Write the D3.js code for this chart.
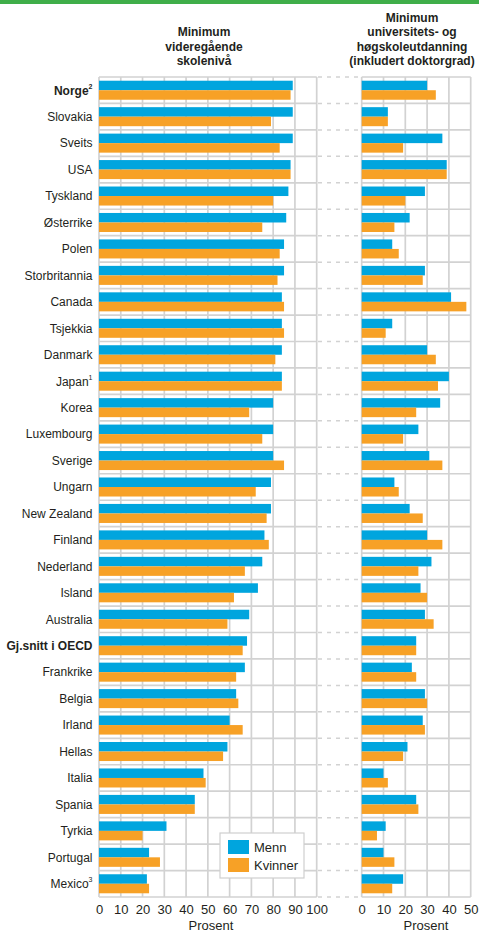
<html>
<head>
<meta charset="utf-8">
<style>
  body { margin: 0; background: #fff; }
  text { font-family: "Liberation Sans", Arial, sans-serif; fill: #231f20; }
</style>
</head>
<body>
<svg id="chart" width="479" height="932"></svg>
<script src="https://cdn.jsdelivr.net/npm/d3@7"></script>
<script>
// land, fotnote, fet skrift
let countries = ["Norge", "Slovakia", "Sveits", "USA", "Tyskland", "Østerrike", "Polen",
  "Storbritannia", "Canada", "Tsjekkia", "Danmark", "Japan", "Korea", "Luxembourg",
  "Sverige", "Ungarn", "New Zealand", "Finland", "Nederland", "Island", "Australia",
  "Gj.snitt i OECD", "Frankrike", "Belgia", "Irland", "Hellas", "Italia", "Spania",
  "Tyrkia", "Portugal", "Mexico"]
let notes = { "Norge": "2", "Japan": "1", "Mexico": "3" }
let boldRows = ["Norge", "Gj.snitt i OECD"]

// Minimum videregående skolenivå
let vgsMenn    = [89, 89, 89, 88, 87, 86, 85, 85, 84, 84, 84, 84, 80, 80, 80, 79, 79, 76, 75, 73, 69, 68, 67, 63, 60, 59, 48, 44, 31, 23, 22]
let vgsKvinner = [88, 79, 83, 88, 80, 75, 83, 82, 85, 85, 81, 84, 69, 75, 85, 72, 77, 78, 67, 62, 59, 66, 63, 64, 66, 57, 49, 44, 20, 28, 23]

// Minimum universitets- og høgskoleutdanning
let uniMenn    = [30, 12, 37, 39, 29, 22, 14, 29, 41, 14, 30, 40, 36, 26, 31, 15, 22, 30, 32, 27, 29, 25, 23, 29, 28, 21, 10, 25, 11, 10, 19]
let uniKvinner = [34, 12, 19, 39, 20, 15, 17, 28, 48, 11, 34, 35, 25, 19, 37, 17, 28, 37, 26, 30, 33, 25, 25, 30, 29, 19, 12, 26, 7, 15, 14]

let seriesNames = ["Menn", "Kvinner"]
let colors = { "Menn": "#00a5de", "Kvinner": "#f7a126" }
let leftTicks = d3.range(0, 101, 10)
let rightTicks = d3.range(0, 51, 10)

let svg = d3.select("#chart")
let gridColor = "#d2d2d2"

// grønn strek øverst
svg.append("rect").attr("x", 0).attr("y", 0).attr("width", 479).attr("height", 4)
  .attr("fill", "#3fae49")

let plotTop = 77, plotBottom = 897
let y = d3.scaleBand().domain(countries).range([plotTop, plotBottom]).padding(0)
let ySub = d3.scaleBand().domain(seriesNames).range([0, y.bandwidth()])
  .paddingInner(0).paddingOuter(0.39)

let xLeft = d3.scaleLinear().domain([0, 100]).range([99, 316.7])
let xRight = d3.scaleLinear().domain([0, 50]).range([361.7, 470.7])

// stiplede linjer mellom panelene
let rowLines = countries.map(c => y(c)).concat([plotBottom])
svg.append("g").selectAll("line").data(rowLines).enter().append("line")
  .attr("x1", 318).attr("x2", 361).attr("y1", d => d).attr("y2", d => d)
  .attr("stroke", gridColor).attr("stroke-width", 1.5).attr("stroke-dasharray", "4,5")

function panel(x, ticks, menn, kvinner, header, headerX, titleX) {
  let g = svg.append("g")
  // rutenett
  g.selectAll(".v").data(ticks).enter().append("line")
    .attr("x1", d => x(d)).attr("x2", d => x(d))
    .attr("y1", plotTop).attr("y2", plotBottom)
    .attr("stroke", gridColor).attr("stroke-width", 1.7)
  g.selectAll(".h").data(rowLines).enter().append("line")
    .attr("x1", x.range()[0]).attr("x2", x.range()[1])
    .attr("y1", d => d).attr("y2", d => d)
    .attr("stroke", gridColor).attr("stroke-width", 1.7)

  let rows = countries.map((c, i) => ({ c: c, Menn: menn[i], Kvinner: kvinner[i] }))
  let rg = g.selectAll(".row").data(rows).enter().append("g")
    .attr("transform", d => "translate(0," + y(d.c) + ")")
  rg.selectAll("rect").data(d => seriesNames.map(s => ({ s: s, v: d[s] })))
    .enter().append("rect")
    .attr("x", x(0))
    .attr("y", d => ySub(d.s))
    .attr("width", d => x(d.v) - x(0))
    .attr("height", ySub.bandwidth())
    .attr("fill", d => colors[d.s])

  // akse
  let axis = d3.axisBottom(x).tickValues(ticks).tickSize(0).tickPadding(0)
  let ag = g.append("g").attr("transform", "translate(0," + 905 + ")").call(axis)
  ag.select(".domain").remove()
  ag.selectAll("text").attr("font-size", 13).attr("fill", "#231f20")
    .style("font-family", "Liberation Sans, Arial, sans-serif").attr("dy", "0.72em")

  g.append("text").attr("x", titleX).attr("y", 930).attr("text-anchor", "middle")
    .attr("font-size", 13).text("Prosent")

  let ht = g.append("text").attr("text-anchor", "middle").attr("font-size", 12)
    .attr("font-weight", "bold")
  header.forEach((line, i) => {
    ht.append("tspan").attr("x", headerX)
      .attr("y", 65 - (header.length - 1 - i) * 14.5).text(line)
  })
}

panel(xLeft, leftTicks, vgsMenn, vgsKvinner,
  ["Minimum", "videregående", "skolenivå"], 204, 211)
panel(xRight, rightTicks, uniMenn, uniKvinner,
  ["Minimum", "universitets- og", "høgskoleutdanning", "(inkludert doktorgrad)"], 412, 426)

// landnavn
let lab = svg.append("g").selectAll("text").data(countries).enter().append("text")
  .attr("x", 92.5)
  .attr("y", d => y(d) + y.bandwidth() / 2)
  .attr("dy", "0.36em")
  .attr("text-anchor", "end")
  .attr("font-size", 12)
  .attr("font-weight", d => boldRows.includes(d) ? "bold" : "normal")
lab.append("tspan").text(d => d)
lab.filter(d => notes[d]).append("tspan")
  .attr("font-size", 7).attr("dy", "-0.8em").text(d => notes[d])

// tegnforklaring
let leg = svg.append("g")
leg.append("rect").attr("x", 220).attr("y", 833).attr("width", 84).attr("height", 45)
  .attr("fill", "#fff").attr("stroke", "#cfcfcf").attr("stroke-width", 1.2)
seriesNames.forEach((s, i) => {
  leg.append("rect").attr("x", 228).attr("y", 840 + i * 18).attr("width", 21).attr("height", 14)
    .attr("fill", colors[s])
  leg.append("text").attr("x", 254).attr("y", 852 + i * 18).attr("font-size", 13).text(s)
})
</script>
</body>
</html>
